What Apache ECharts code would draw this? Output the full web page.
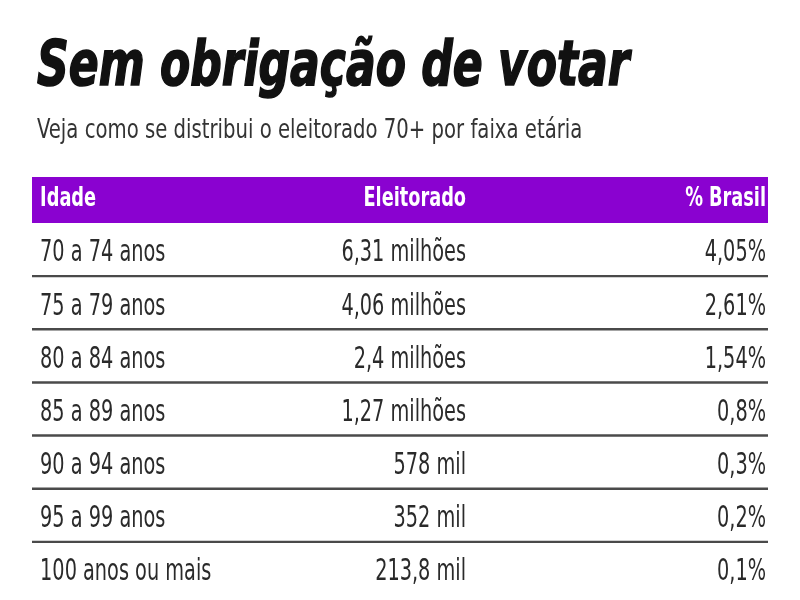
<!DOCTYPE html>
<html>
<head>
<meta charset="utf-8">
<script src="https://cdn.jsdelivr.net/npm/echarts@6/dist/echarts.min.js"></script>
<style>html,body{margin:0;padding:0;background:#fff}#c{width:800px;height:600px}</style>
</head>
<body>
<div id="c"></div>
<script>
const titleText = 'Sem obrigação de votar';
const subtitleText = 'Veja como se distribui o eleitorado 70+ por faixa etária';
const headers = ['Idade', 'Eleitorado', '% Brasil'];
const ages = ['70 a 74 anos', '75 a 79 anos', '80 a 84 anos', '85 a 89 anos', '90 a 94 anos', '95 a 99 anos', '100 anos ou mais'];
const eleitorado = ['6,31 milhões', '4,06 milhões', '2,4 milhões', '1,27 milhões', '578 mil', '352 mil', '213,8 mil'];
const pctBrasil = ['4,05%', '2,61%', '1,54%', '0,8%', '0,3%', '0,2%', '0,1%'];

// layout (column anchors as fractions of table width)
const FONT = '"DejaVu Sans Condensed", "Liberation Sans Narrow", sans-serif';
const colX = [0.011, 0.5897, 0.9973];
const colAlign = ['left', 'right', 'right'];
const CELL_FONT = 30, CELL_SCALE = 0.715;
const HEAD_FONT = 27, HEAD_SCALE = 0.73;

const chart = echarts.init(document.getElementById('c'), null, {renderer: 'canvas'});

function cellText(x, y, t, fill, font, align, scale) {
  return {
    type: 'text', x: x, y: y, scaleX: scale,
    style: {x: 0, y: 0, text: t, fill: fill, font: font, align: align, verticalAlign: 'middle'}
  };
}

function headerItem(params, api) {
  const cat = api.value(1);
  const c0 = api.coord([0, cat]);
  const c1 = api.coord([1, cat]);
  const h = api.size([0, 1])[1];
  const children = [{
    type: 'rect',
    shape: {x: c0[0], y: c0[1] - h / 2, width: c1[0] - c0[0], height: h},
    style: {fill: '#8A02D0'}
  }];
  headers.forEach((t, k) => {
    const p = api.coord([colX[k], cat]);
    children.push(cellText(p[0], p[1] - 1.5, t, '#ffffff', 'bold ' + HEAD_FONT + 'px ' + FONT, colAlign[k], HEAD_SCALE));
  });
  return {type: 'group', children};
}

function rowItem(params, api) {
  const i = params.dataIndex;
  const cat = api.value(1);
  const c0 = api.coord([0, cat]);
  const c1 = api.coord([1, cat]);
  const h = api.size([0, 1])[1];
  const cells = [ages[i], eleitorado[i], pctBrasil[i]];
  const children = [];
  cells.forEach((t, k) => {
    const p = api.coord([colX[k], cat]);
    children.push(cellText(p[0], p[1] + 4, t, '#2a2a2a', CELL_FONT + 'px ' + FONT, colAlign[k], CELL_SCALE));
  });
  if (i < ages.length - 1) {
    children.push({
      type: 'line',
      shape: {x1: c0[0], y1: c0[1] + h / 2, x2: c1[0], y2: c0[1] + h / 2},
      style: {stroke: '#4a4a4a', lineWidth: 2.4}
    });
  }
  return {type: 'group', children};
}

chart.setOption({
  animation: false,
  backgroundColor: '#ffffff',
  graphic: [
    {
      type: 'text', x: 37, y: 68.5, scaleX: 0.79,
      style: {x: 0, y: 0, text: titleText, fill: '#111111', stroke: '#111111', lineWidth: 1.6,
        font: 'italic bold 62px ' + FONT, align: 'left', verticalAlign: 'middle'}
    },
    {
      type: 'text', x: 37, y: 130.5, scaleX: 0.81,
      style: {x: 0, y: 0, text: subtitleText, fill: '#333333',
        font: '27px ' + FONT, align: 'left', verticalAlign: 'middle'}
    }
  ],
  grid: [
    {left: 32, right: 32, top: 177, height: 46, containLabel: false},
    {left: 32, right: 32, top: 223, height: 372, containLabel: false}
  ],
  xAxis: [
    {type: 'value', gridIndex: 0, min: 0, max: 1, show: false},
    {type: 'value', gridIndex: 1, min: 0, max: 1, show: false}
  ],
  yAxis: [
    {type: 'category', gridIndex: 0, data: ['header'], show: false},
    {type: 'category', gridIndex: 1, data: ages, inverse: true, show: false}
  ],
  series: [
    {type: 'custom', xAxisIndex: 0, yAxisIndex: 0, renderItem: headerItem, data: [[0, 'header']], silent: true},
    {type: 'custom', xAxisIndex: 1, yAxisIndex: 1, renderItem: rowItem, data: ages.map(a => [0, a]), silent: true}
  ]
});
</script>
</body>
</html>
